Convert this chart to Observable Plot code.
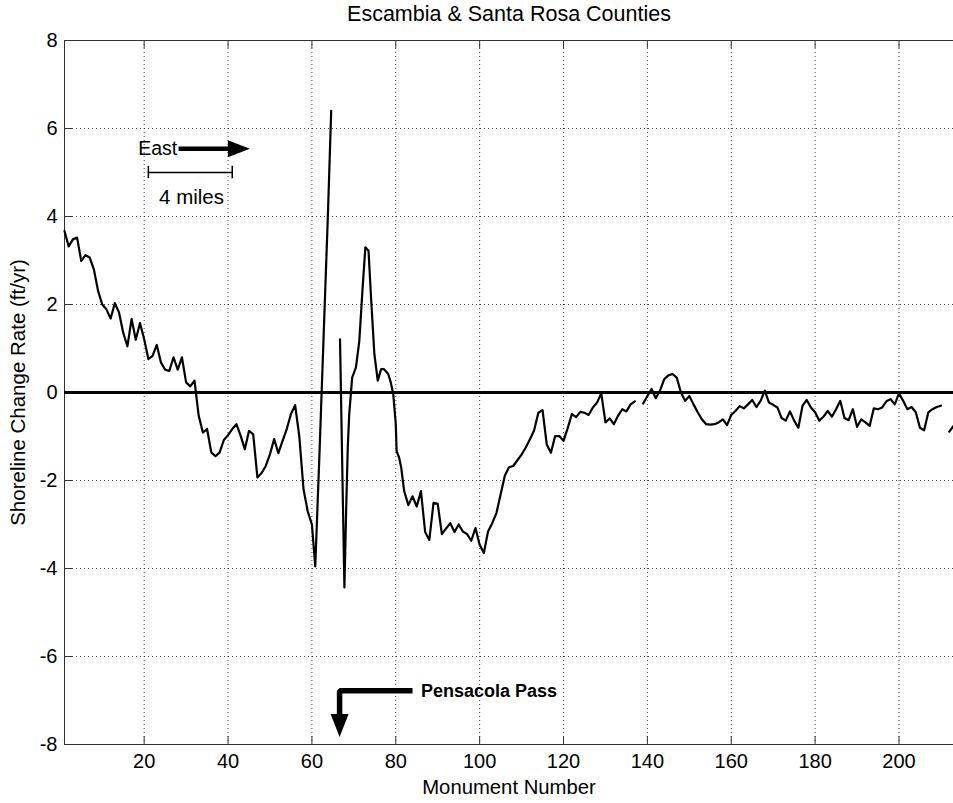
<!DOCTYPE html>
<html>
<head>
<meta charset="utf-8">
<script src="https://cdn.jsdelivr.net/npm/d3@7"></script>
<script src="https://cdn.jsdelivr.net/npm/@observablehq/plot@0.6"></script>
<style>
  html, body { margin: 0; padding: 0; background: #fff; }
  #chart svg { display: block; }
</style>
</head>
<body>
<div id="chart"></div>
<script>
// ---- data ----
const monuments = [
  1,2,3,4,5,6,7,8,9,10,11,12,13,14,15,16,17,18,19,20,
  21,22,23,24,25,26,27,28,29,30,31,32,33,34,35,36,37,38,39,40,
  41,42,43,44,45,46,47,48,49,50,51,52,53,54,55,56,57,58,59,60,
  60.8,61.8,62.8,63.8,64.6,65.5,66.7,67.75,68.2,68.55,68.9,69.6,70.5,71.3,72.1,72.75,73.5,74.1,74.9,75.7,
  76.5,77.2,78.2,78.8,79.4,80,80.2,80.8,81.3,82,83,84,85,86,87,88,89,90,91,92,
  93,94,95,96,97,98,99,100,101,102,103,104,105,106,107,108,109,110,111,112,
  113,114,115,116,117,118,119,120,121,122,123,124,125,126,127,128,129,130,131,132,
  133,134,135,136,137,138,139,140,141,142,143,144,145,146,147,148,149,150,151,152,
  153,154,155,156,157,158,159,160,161,162,163,164,165,166,167,168,169,170,171,172,
  173,174,175,176,177,178,179,180,181,182,183,184,185,186,187,188,189,190,191,192,
  193,194,195,196,197,198,199,200,201,202,203,204,205,206,207,208,209,210,211,212,213
];
const rates = [
  3.67,3.32,3.48,3.52,2.99,3.12,3.07,2.80,2.31,2.00,1.89,1.68,2.03,1.82,1.36,1.05,1.67,1.20,1.58,1.21,
  0.76,0.83,1.08,0.68,0.52,0.49,0.80,0.52,0.80,0.23,0.14,0.27,-0.53,-0.91,-0.83,-1.36,-1.45,-1.36,-1.08,-0.97,
  -0.83,-0.72,-0.98,-1.29,-0.87,-0.95,-1.93,-1.83,-1.67,-1.40,-1.06,-1.38,-1.10,-0.83,-0.49,-0.29,-1.00,-2.20,-2.70,-3.00,
  -3.95,-1.40,1.30,4.00,6.40,null,1.21,-4.43,-2.54,-1.25,-0.49,0.34,0.57,1.17,2.39,3.30,3.22,2.16,0.87,0.27,
  0.53,0.53,0.42,0.23,-0.04,-0.72,-1.33,-1.48,-1.71,-2.24,-2.56,-2.36,-2.59,-2.24,-3.17,-3.35,-2.51,-2.53,-3.22,-3.09,
  -2.97,-3.17,-3.00,-3.16,-3.22,-3.37,-3.08,-3.46,-3.65,-3.16,-2.97,-2.74,-2.32,-1.89,-1.70,-1.67,-1.54,-1.41,-1.25,-1.06,
  -0.86,-0.46,-0.40,-1.18,-1.37,-0.99,-0.99,-1.10,-0.81,-0.49,-0.56,-0.44,-0.46,-0.51,-0.34,-0.23,-0.02,-0.68,-0.59,-0.72,
  -0.53,-0.38,-0.43,-0.27,-0.20,null,-0.25,-0.08,0.08,-0.13,0.04,0.30,0.39,0.42,0.34,0.00,-0.19,-0.08,-0.27,-0.45,
  -0.61,-0.72,-0.73,-0.72,-0.68,-0.61,-0.74,-0.51,-0.42,-0.31,-0.36,-0.27,-0.17,-0.33,-0.19,0.04,-0.23,-0.28,-0.34,-0.58,
  -0.64,-0.43,-0.64,-0.80,-0.30,-0.17,-0.34,-0.45,-0.64,-0.55,-0.42,-0.55,-0.38,-0.19,-0.58,-0.63,-0.38,-0.78,-0.61,-0.68,
  -0.76,-0.36,-0.38,-0.34,-0.20,-0.15,-0.27,-0.02,-0.19,-0.38,-0.33,-0.45,-0.80,-0.86,-0.45,-0.38,-0.33,-0.30,null,-0.89,-0.76
];
const xTicks = [20, 40, 60, 80, 100, 120, 140, 160, 180, 200];
const yTicks = [-8, -6, -4, -2, 0, 2, 4, 6, 8];
const titleText = "Escambia & Santa Rosa Counties";
const xLabel = "Monument Number";
const yLabel = "Shoreline Change Rate (ft/yr)";

// annotations (data coordinates)
const eastText = [{x: 27.9, y: 5.55, t: "East"}];
const eastShaft = [{x: 28.2, y: 5.54}, {x: 41, y: 5.54}];
const eastTip = [{x: 45.2, y: 5.54}];
const scaleBar = [{x: 21, y: 5.0}, {x: 41, y: 5.0}];
const scaleEnds = [21, 41];
const scaleText = [{x: 31.3, y: 4.43, t: "4 miles"}];
const passText = [{x: 86.0, y: -6.78, t: "Pensacola Pass"}];
const passShaft = [{x: 84.0, y: -6.78}, {x: 66.6, y: -6.78}, {x: 66.6, y: -7.4}];
const passTip = [{x: 66.6, y: -7.83}];

const series = monuments.map((m, i) => ({m, r: rates[i]}));

// custom arrowhead symbols (tip at the origin)
const headRight = {draw(ctx) { ctx.moveTo(0, 0); ctx.lineTo(-22, -8.5); ctx.lineTo(-22, 8.5); ctx.closePath(); }};
const headDown = {draw(ctx) { ctx.moveTo(0, 0); ctx.lineTo(-9, -23); ctx.lineTo(9, -23); ctx.closePath(); }};

const W = 953, H = 803;
const mL = 64, mR = 0, mT = 40, mB = 59;
const frameW = W - mL - mR, frameH = H - mT - mB;
const font = "'Liberation Sans', Arial, Helvetica, sans-serif";
const FS = 20;

const chart = Plot.plot({
  width: W,
  height: H,
  marginLeft: mL,
  marginRight: mR,
  marginTop: mT,
  marginBottom: mB,
  style: {fontFamily: font, fontSize: FS + "px", color: "#000", background: "#fff", overflow: "visible"},
  x: {domain: [1, 213], ticks: xTicks, tickFormat: d => String(d), tickSize: 0, tickPadding: 9, label: null},
  y: {domain: [-8, 8], ticks: yTicks, tickFormat: d => String(d), tickSize: 0, tickPadding: 7, label: null},
  marks: [
    // dotted grid
    Plot.ruleX(xTicks, {stroke: "#000", strokeWidth: 1, strokeDasharray: "1,3", strokeOpacity: 0.75}),
    Plot.ruleY(yTicks, {stroke: "#000", strokeWidth: 1, strokeDasharray: "1,3", strokeOpacity: 0.75}),
    // inward tick marks
    Plot.tickX(xTicks, {x: d => d, insetTop: frameH - 8, stroke: "#333"}),
    Plot.tickX(xTicks, {x: d => d, insetBottom: frameH - 8, stroke: "#333"}),
    Plot.tickY(yTicks, {y: d => d, insetRight: frameW - 8, stroke: "#333"}),
    Plot.frame({stroke: "#333", strokeWidth: 1}),
    // zero line
    Plot.ruleY([0], {stroke: "#000", strokeWidth: 3}),
    // the data
    Plot.line(series, {x: "m", y: "r", stroke: "#000", strokeWidth: 2.2, strokeLinejoin: "round"}),
    // East arrow and scale bar
    Plot.text(eastText, {x: "x", y: "y", text: "t", textAnchor: "end", fontSize: 19.5}),
    Plot.line(eastShaft, {x: "x", y: "y", stroke: "#000", strokeWidth: 4.5, strokeLinecap: "butt"}),
    Plot.dot(eastTip, {x: "x", y: "y", symbol: headRight, fill: "#000", stroke: "none"}),
    Plot.line(scaleBar, {x: "x", y: "y", stroke: "#000", strokeWidth: 1.5}),
    Plot.ruleX(scaleEnds, {x: d => d, y1: 4.86, y2: 5.14, stroke: "#000", strokeWidth: 1.5}),
    Plot.text(scaleText, {x: "x", y: "y", text: "t", fontSize: 20.5}),
    // Pensacola Pass
    Plot.line(passShaft, {x: "x", y: "y", stroke: "#000", strokeWidth: 5.5, strokeLinecap: "butt", strokeLinejoin: "miter"}),
    Plot.dot(passTip, {x: "x", y: "y", symbol: headDown, fill: "#000", stroke: "none"}),
    Plot.text(passText, {x: "x", y: "y", text: "t", textAnchor: "start", fontWeight: "bold", fontSize: 18}),
    // title and axis labels
    Plot.text([titleText], {text: d => d, frameAnchor: "top", dy: -26, textAnchor: "middle", lineAnchor: "middle", fontSize: 21.5}),
    Plot.text([xLabel], {text: d => d, frameAnchor: "bottom", dy: 43, textAnchor: "middle", lineAnchor: "middle", fontSize: 20.3}),
    Plot.text([yLabel], {text: d => d, frameAnchor: "left", dx: -46, rotate: -90, textAnchor: "middle", lineAnchor: "middle", fontSize: 20.5})
  ]
});
document.getElementById("chart").appendChild(chart);
</script>
</body>
</html>
